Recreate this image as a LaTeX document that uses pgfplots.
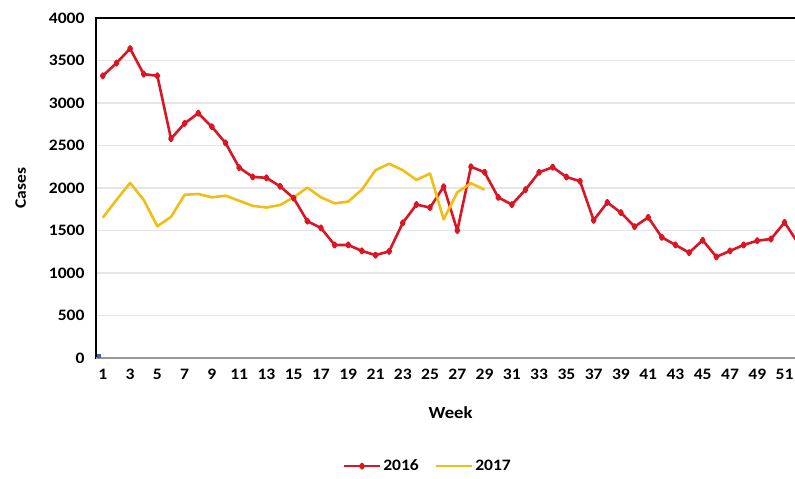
\documentclass[border=0pt]{standalone}
\usepackage{fontspec}
\setmainfont{Carlito}[FakeStretch=1.1]
\usepackage{pgfplots}
\pgfplotsset{compat=1.18}
\definecolor{cred}{RGB}{218,22,36}
\definecolor{cyel}{RGB}{240,190,20}
\definecolor{cblue}{RGB}{60,100,170}
\begin{document}
\begin{tikzpicture}
\begin{axis}[
  scale only axis, width=709bp, height=340bp,
  at={(0,0)}, anchor=south west,
  xmin=0.5, xmax=52.5, ymin=0, ymax=4000,
  xtick={1,3,...,51}, ytick={0,500,...,4000},
  major tick length=0,
  axis line style={black, line width=1.6bp},
  ymajorgrids, grid style={gray!20, line width=1.2bp},
  /pgf/number format/assume math mode=true,
  /pgf/number format/1000 sep={},
  ticklabel style={font=\fontsize{16}{18}\selectfont\bfseries},
  yticklabel style={xshift=-8bp},
  xticklabel style={yshift=-8bp},
  xlabel={\fontsize{17}{19}\selectfont\bfseries Week},
  ylabel={\fontsize{16}{18}\selectfont\bfseries Cases},
  xlabel style={yshift=-20bp},
  ylabel style={yshift=16bp},
  legend columns=2,
  legend style={draw=none, fill=none, at={(axis description cs:0.468,-0.318)}, anchor=center,
    font=\fontsize{16}{18}\selectfont\bfseries,
    /tikz/every even column/.append style={column sep=14bp}},
  legend image code/.code={\draw[#1, line width=2.5bp] (0bp,0bp) -- (36bp,0bp); \draw[#1, mark repeat=1, mark phase=1] plot coordinates {(18bp,0bp)};},
]
\draw[gray!80, line width=2bp] (rel axis cs:0,0) -- (rel axis cs:1,0);
\addplot[cred, line width=2.6bp, line join=round, mark=diamond*, mark size=2.2bp] coordinates {
(1,3320)(2,3470)(3,3640)(4,3340)(5,3320)(6,2580)(7,2760)(8,2880)(9,2720)(10,2530)
(11,2240)(12,2130)(13,2120)(14,2020)(15,1880)(16,1610)(17,1530)(18,1330)(19,1330)(20,1260)
(21,1210)(22,1255)(23,1590)(24,1805)(25,1770)(26,2015)(27,1500)(28,2250)(29,2185)(30,1890)
(31,1805)(32,1980)(33,2185)(34,2245)(35,2130)(36,2080)(37,1620)(38,1830)(39,1710)(40,1545)
(41,1655)(42,1420)(43,1330)(44,1240)(45,1385)(46,1190)(47,1260)(48,1330)(49,1380)(50,1400)
(51,1595)(52,1350)};
\addlegendentry{2016}
\addplot[cyel, line width=2.6bp, line join=round, mark=none] coordinates {
(1,1650)(2,1860)(3,2060)(4,1860)(5,1550)(6,1660)(7,1920)(8,1930)(9,1890)(10,1910)
(11,1850)(12,1790)(13,1770)(14,1800)(15,1890)(16,2005)(17,1890)(18,1820)(19,1840)(20,1980)
(21,2210)(22,2285)(23,2210)(24,2095)(25,2170)(26,1630)(27,1950)(28,2055)(29,1980)};
\addlegendentry{2017}
\addplot[cblue, mark=square*, mark size=1.6bp, forget plot] coordinates {(0.72,25)};
\end{axis}
\pgfresetboundingbox
\useasboundingbox (-96bp,-121bp) rectangle (699bp,358bp);
\end{tikzpicture}
\end{document}
